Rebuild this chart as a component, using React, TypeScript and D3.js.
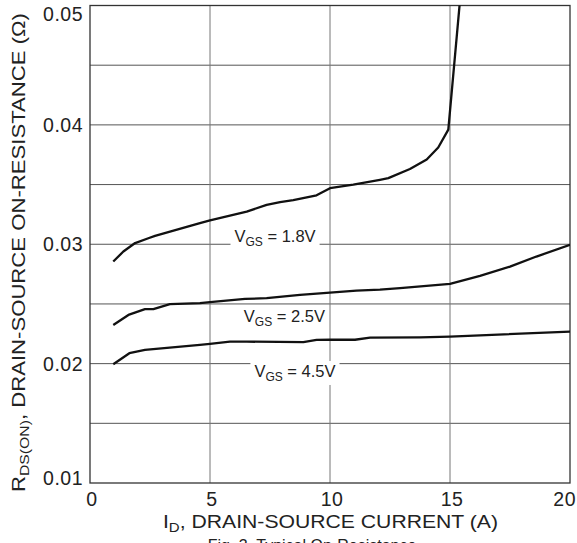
import React, { useEffect, useRef } from 'react';
import * as d3 from 'd3';

// drain current (A) vs on-resistance (ohm)
const vgs18X = [0.97, 1.39, 1.88, 2.43, 2.71, 4.58, 5, 6.53, 7.36, 7.92, 8.47, 9.44, 10, 10.97, 12.08, 12.43, 13.33, 14.03, 14.51, 14.93, 15.42];
const vgs18Y = [0.02855, 0.02939, 0.0301, 0.0305, 0.0307, 0.03177, 0.032, 0.03274, 0.0333, 0.03353, 0.0337, 0.0341, 0.0347, 0.035, 0.0354, 0.03554, 0.0363, 0.0371, 0.0381, 0.0396, 0.0505];

const vgs25X = [0.97, 1.6, 2.29, 2.64, 3.33, 4.58, 5, 6.46, 7.36, 8.75, 10, 11.1, 12.08, 12.92, 15, 16.25, 17.5, 18.6, 20];
const vgs25Y = [0.02324, 0.02408, 0.02456, 0.02456, 0.02498, 0.02506, 0.02515, 0.02542, 0.02548, 0.02576, 0.02595, 0.02612, 0.0262, 0.02632, 0.02668, 0.02735, 0.02813, 0.02897, 0.02995];

const vgs45X = [0.97, 1.64, 2.29, 4.58, 5, 5.83, 6.53, 8.89, 9.44, 10, 11.04, 11.67, 13.75, 15, 20];
const vgs45Y = [0.01995, 0.02087, 0.02115, 0.02157, 0.02165, 0.02184, 0.02184, 0.0218, 0.02199, 0.022, 0.022, 0.02218, 0.0222, 0.02226, 0.02268];

const xTicks = [0, 5, 10, 15, 20];
const yTicks = [0.01, 0.02, 0.03, 0.04, 0.05];
const yGrid = [0.015, 0.02, 0.025, 0.03, 0.035, 0.04, 0.045];
const xGrid = [5, 10, 15];

// curve labels: voltage text and where the label sits (data units)
const labelVolts = ['1.8V', '2.5V', '4.5V'];
const labelX = [7.71, 8.1, 8.54];
const labelY = [0.0306, 0.0239, 0.0193];

const FONT = '"Liberation Sans", Arial, Helvetica, sans-serif';

const App = () => {
  const ref = useRef<SVGSVGElement>(null);

  useEffect(() => {
    const width = 577;
    const height = 543;
    const margin = { left: 90, right: 7, top: 5.5, bottom: 60 };

    const x = d3.scaleLinear().domain([0, 20]).range([margin.left, width - margin.right]);
    const y = d3.scaleLinear().domain([0.01, 0.05]).range([height - margin.bottom, margin.top]);

    const svg = d3.select(ref.current);
    svg.selectAll('*').remove();
    svg.attr('width', width).attr('height', height).attr('viewBox', `0 0 ${width} ${height}`)
      .style('display', 'block').style('font-family', FONT);

    svg.append('defs').append('clipPath').attr('id', 'plot-clip')
      .append('rect')
      .attr('x', x(0)).attr('y', y(0.05))
      .attr('width', x(20) - x(0)).attr('height', y(0.01) - y(0.05));

    // grid
    svg.append('g').selectAll('line').data(yGrid).join('line')
      .attr('x1', x(0)).attr('x2', x(20))
      .attr('y1', (d) => y(d)).attr('y2', (d) => y(d))
      .attr('stroke', '#555').attr('stroke-width', 1);
    svg.append('g').selectAll('line').data(xGrid).join('line')
      .attr('y1', y(0.01)).attr('y2', y(0.05))
      .attr('x1', (d) => x(d)).attr('x2', (d) => x(d))
      .attr('stroke', '#777').attr('stroke-width', 1);

    // labels with white boxes that break the grid
    const labels = svg.append('g');
    labelVolts.forEach((v, i) => {
      const g = labels.append('g');
      const t = g.append('text')
        .attr('x', x(labelX[i])).attr('y', y(labelY[i]) + 5)
        .attr('text-anchor', 'middle')
        .attr('font-size', 16.5).attr('fill', '#222');
      t.append('tspan').text('V');
      t.append('tspan').attr('font-size', 12).attr('dy', 4).text('GS');
      t.append('tspan').attr('dy', -4).text(` = ${v}`);
      const bb = (t.node() as SVGTextElement).getBBox();
      g.insert('rect', 'text')
        .attr('x', bb.x - 4).attr('y', bb.y - 1)
        .attr('width', bb.width + 8).attr('height', bb.height + 2)
        .attr('fill', '#fff');
    });

    // frame
    svg.append('rect')
      .attr('x', x(0)).attr('y', y(0.05))
      .attr('width', x(20) - x(0)).attr('height', y(0.01) - y(0.05))
      .attr('fill', 'none').attr('stroke', '#333').attr('stroke-width', 1.3);

    // curves
    const line = d3.line<[number, number]>().x((d) => x(d[0])).y((d) => y(d[1]));
    const series = [
      d3.zip(vgs18X, vgs18Y),
      d3.zip(vgs25X, vgs25Y),
      d3.zip(vgs45X, vgs45Y),
    ];
    svg.append('g').attr('clip-path', 'url(#plot-clip)')
      .selectAll('path').data(series).join('path')
      .attr('d', (d) => line(d as [number, number][]))
      .attr('fill', 'none').attr('stroke', '#111')
      .attr('stroke-width', 2.3).attr('stroke-linejoin', 'round');

    // tick labels (end labels nudged to stay inside the page)
    svg.append('g').selectAll('text').data(xTicks).join('text')
      .attr('x', (d) => (d === 20 ? width - 1 : x(d) + 2))
      .attr('y', y(0.01) + 23)
      .attr('text-anchor', (d) => (d === 20 ? 'end' : 'middle'))
      .attr('font-size', 19.5).attr('letter-spacing', 0.5).attr('fill', '#222')
      .text((d) => d);
    svg.append('g').selectAll('text').data(yTicks).join('text')
      .attr('x', x(0) - 7)
      .attr('y', (d) => Math.min(Math.max(y(d) + 7, 21), y(0.01) + 2))
      .attr('text-anchor', 'end').attr('font-size', 19.5).attr('letter-spacing', 0.5).attr('fill', '#222')
      .text((d) => d3.format('.2f')(d));

    // axis titles
    const xt = svg.append('text')
      .attr('x', 330.5).attr('y', 528)
      .attr('text-anchor', 'middle').attr('font-size', 19).attr('fill', '#222')
      .attr('textLength', 335).attr('lengthAdjust', 'spacingAndGlyphs');
    xt.append('tspan').text('I');
    xt.append('tspan').attr('font-size', 13.5).attr('dy', 4).text('D');
    xt.append('tspan').attr('dy', -4).text(', DRAIN-SOURCE CURRENT (A)');

    const yt = svg.append('text')
      .attr('transform', 'translate(25,252.5) rotate(-90)')
      .attr('text-anchor', 'middle').attr('font-size', 19).attr('fill', '#222')
      .attr('textLength', 479).attr('lengthAdjust', 'spacingAndGlyphs');
    yt.append('tspan').text('R');
    yt.append('tspan').attr('font-size', 13.5).attr('dy', 4).text('DS(ON)');
    yt.append('tspan').attr('dy', -4).text(', DRAIN-SOURCE ON-RESISTANCE (Ω)');

    svg.append('text')
      .attr('x', 312).attr('y', 551)
      .attr('text-anchor', 'middle').attr('font-size', 16).attr('fill', '#222')
      .text('Fig. 3. Typical On-Resistance');
  }, []);

  return (
    <div style={{ position: 'absolute', left: 0, top: 0 }}>
      <svg ref={ref}></svg>
    </div>
  );
};

export default App;
